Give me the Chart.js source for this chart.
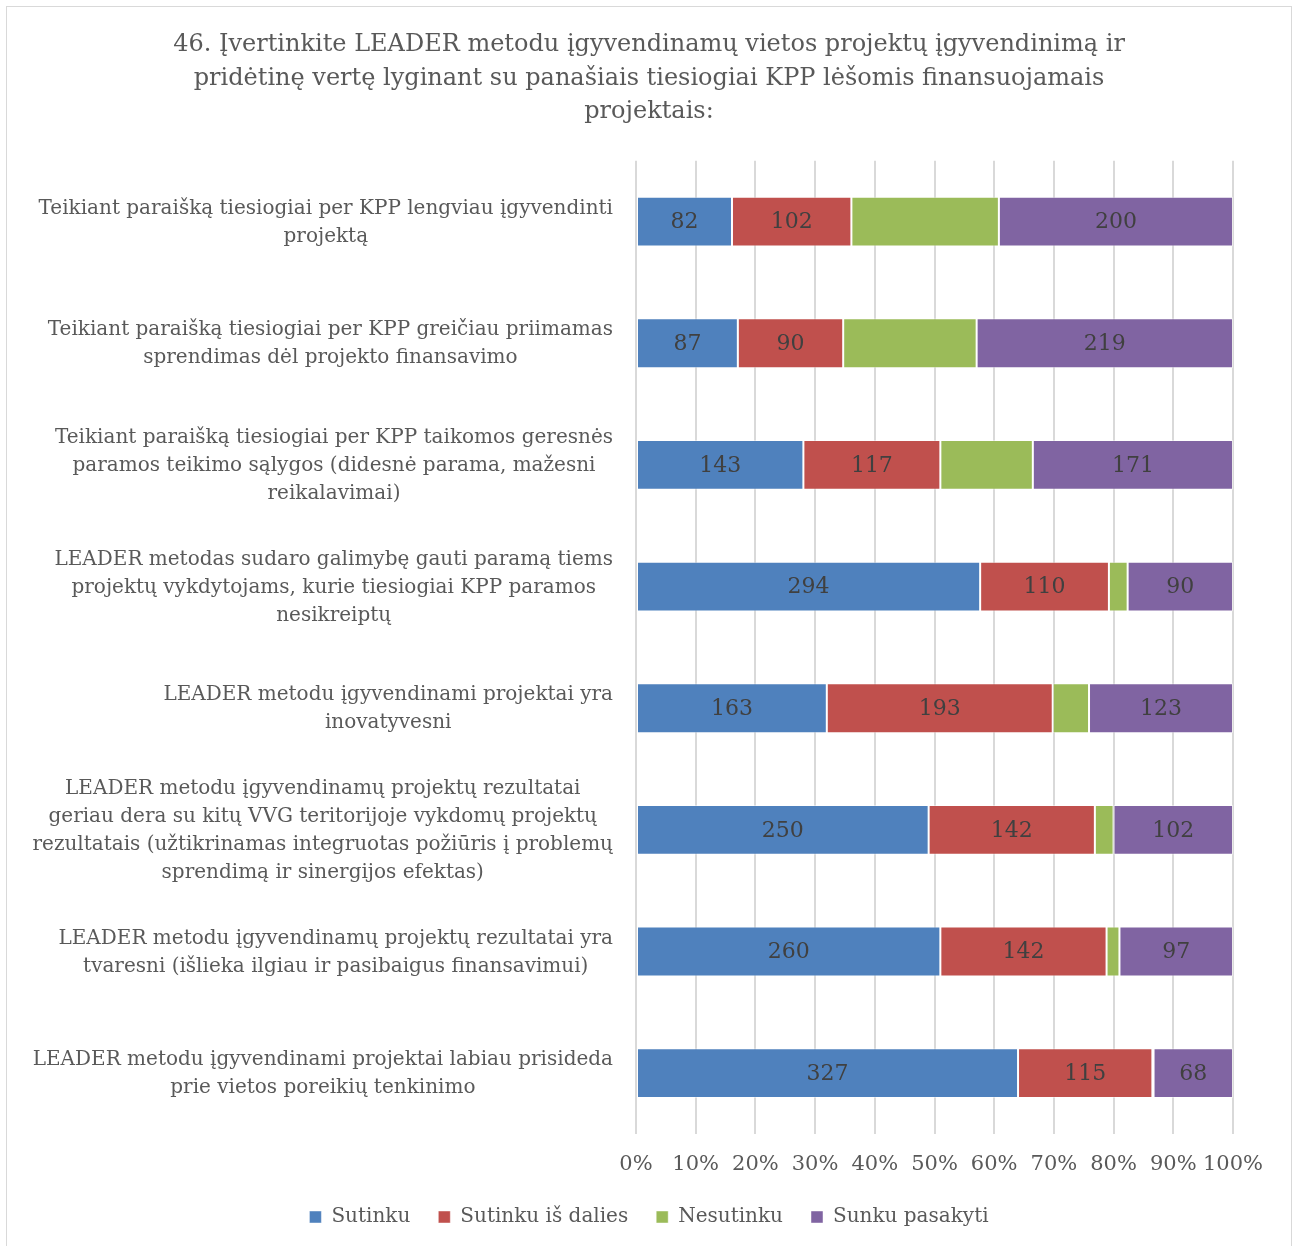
<!DOCTYPE html>
<html>
<head>
<meta charset="utf-8">
<script src="https://cdn.jsdelivr.net/npm/chart.js@4/dist/chart.umd.min.js"></script>
<style>
html, body { margin: 0; padding: 0; background: #fff; }
#frame { position: absolute; left: 6px; top: 6px; width: 1284px; height: 1240px;
         border: 1px solid #d9d9d9; border-bottom: none; }
</style>
</head>
<body>
<div id="frame"><canvas id="chart"></canvas></div>
<script>
'use strict';

const FONT = "'DejaVu Serif', 'Liberation Serif', serif";

// category labels, wrapped like the original
const categories = [
    ['Teikiant paraišką tiesiogiai per KPP lengviau įgyvendinti', 'projektą'],
    ['Teikiant paraišką tiesiogiai per KPP greičiau priimamas', 'sprendimas dėl projekto finansavimo'],
    ['Teikiant paraišką tiesiogiai per KPP taikomos geresnės', 'paramos teikimo sąlygos (didesnė parama, mažesni', 'reikalavimai)'],
    ['LEADER metodas sudaro galimybę gauti paramą tiems', 'projektų vykdytojams, kurie tiesiogiai KPP paramos', 'nesikreiptų'],
    ['LEADER metodu įgyvendinami projektai yra', 'inovatyvesni'],
    ['LEADER metodu įgyvendinamų projektų rezultatai', 'geriau dera su kitų VVG teritorijoje vykdomų projektų', 'rezultatais (užtikrinamas integruotas požiūris į problemų', 'sprendimą ir sinergijos efektas)'],
    ['LEADER metodu įgyvendinamų projektų rezultatai yra', 'tvaresni (išlieka ilgiau ir pasibaigus finansavimui)'],
    ['LEADER metodu įgyvendinami projektai labiau prisideda', 'prie vietos poreikių tenkinimo']
];

const sutinku         = [82, 87, 143, 294, 163, 250, 260, 327];
const sutinkuIsDalies = [102, 90, 117, 110, 193, 142, 142, 115];
const nesutinku       = [126, 114, 79, 16, 31, 16, 11, 1];   // not labelled, read from widths
const sunkuPasakyti   = [200, 219, 171, 90, 123, 102, 97, 68];

const seriesNames = ['Sutinku', 'Sutinku iš dalies', 'Nesutinku', 'Sunku pasakyti'];
const seriesColors = ['#4f81bd', '#c0504d', '#9bbb59', '#8064a2'];
const labelledSeries = [0, 1, 3];

const xTicks = [0, 10, 20, 30, 40, 50, 60, 70, 80, 90, 100];

const counts = [sutinku, sutinkuIsDalies, nesutinku, sunkuPasakyti];
const totals = categories.map((c, i) => counts.reduce((s, arr) => s + arr[i], 0));

// left labels: each block right-aligned, lines centred inside it
const categoryLabelsPlugin = {
    id: 'categoryLabels',
    afterDraw(chart) {
        const ctx = chart.ctx;
        const yScale = chart.scales.y;
        const rightEdge = 606;
        const lineH = 28;
        ctx.save();
        ctx.font = '20px ' + FONT;
        ctx.fillStyle = '#595959';
        ctx.textAlign = 'center';
        ctx.textBaseline = 'middle';
        categories.forEach((lines, i) => {
            const y = yScale.getPixelForValue(i);
            let widest = 0;
            for (const l of lines)
                widest = Math.max(widest, ctx.measureText(l).width);
            const cx = rightEdge - widest / 2;
            lines.forEach((l, j) => {
                ctx.fillText(l, cx, y + 1 + (j - (lines.length - 1) / 2) * lineH);
            });
        });
        ctx.restore();
    }
};

// counts written in the middle of each segment
const valueLabelsPlugin = {
    id: 'valueLabels',
    afterDatasetsDraw(chart) {
        const ctx = chart.ctx;
        ctx.save();
        ctx.font = '22px ' + FONT;
        ctx.fillStyle = '#404040';
        ctx.textAlign = 'center';
        ctx.textBaseline = 'middle';
        for (const d of labelledSeries) {
            const meta = chart.getDatasetMeta(d);
            meta.data.forEach((bar, i) => {
                const v = counts[d][i];
                if (!v) return;
                ctx.fillText(String(v), (bar.x + bar.base) / 2, bar.y + 1);
            });
        }
        ctx.restore();
    }
};

const data = {
    labels: categories.map(c => c.join(' ')),
    datasets: counts.map((arr, d) => ({
        label: seriesNames[d],
        data: arr.map((v, i) => v / totals[i] * 100),
        backgroundColor: seriesColors[d],
        borderColor: 'rgba(255,255,255,0.45)',
        borderWidth: 1,
        borderSkipped: false,
        barPercentage: 0.41,
        categoryPercentage: 1
    }))
};

const ctx = document.getElementById('chart').getContext('2d');
new Chart(ctx, {
    type: 'bar',
    data: data,
    plugins: [categoryLabelsPlugin, valueLabelsPlugin],
    options: {
        indexAxis: 'y',
        responsive: true,
        maintainAspectRatio: false,
        animation: false,
        layout: { padding: { left: 0, right: 0, top: 0, bottom: 10 } },
        plugins: {
            title: {
                display: true,
                text: [
                    '46. Įvertinkite LEADER metodu įgyvendinamų vietos projektų įgyvendinimą ir',
                    'pridėtinę vertę lyginant su panašiais tiesiogiai KPP lėšomis finansuojamais',
                    'projektais:'
                ],
                color: '#595959',
                font: { family: FONT, size: 24, weight: 'normal', lineHeight: 1.4 },
                padding: { top: 21, bottom: 32 }
            },
            legend: {
                position: 'bottom',
                labels: {
                    color: '#595959',
                    font: { family: FONT, size: 20 },
                    boxWidth: 12,
                    boxHeight: 12,
                    padding: 28
                }
            },
            tooltip: { enabled: false }
        },
        scales: {
            x: {
                stacked: true,
                min: 0,
                max: 100,
                afterBuildTicks(scale) {
                    scale.ticks = xTicks.map(v => ({ value: v }));
                },
                afterFit(scale) { scale.height = 45; },
                ticks: {
                    color: '#595959',
                    font: { family: FONT, size: 21 },
                    padding: 18,
                    maxRotation: 0,
                    autoSkip: false,
                    callback: v => v + '%'
                },
                grid: { color: '#d9d9d9', lineWidth: 2, drawTicks: false },
                border: { display: false }
            },
            y: {
                stacked: true,
                afterFit(scale) { scale.width = 629; },
                ticks: { display: false },
                grid: { display: false },
                border: { display: false }
            },
            // empty space on the right so title and legend stay centred on the whole frame
            yRight: {
                axis: 'y',
                type: 'category',
                position: 'right',
                afterFit(scale) { scale.width = 58; },
                ticks: { display: false },
                grid: { display: false },
                border: { display: false }
            }
        }
    }
});
</script>
</body>
</html>
